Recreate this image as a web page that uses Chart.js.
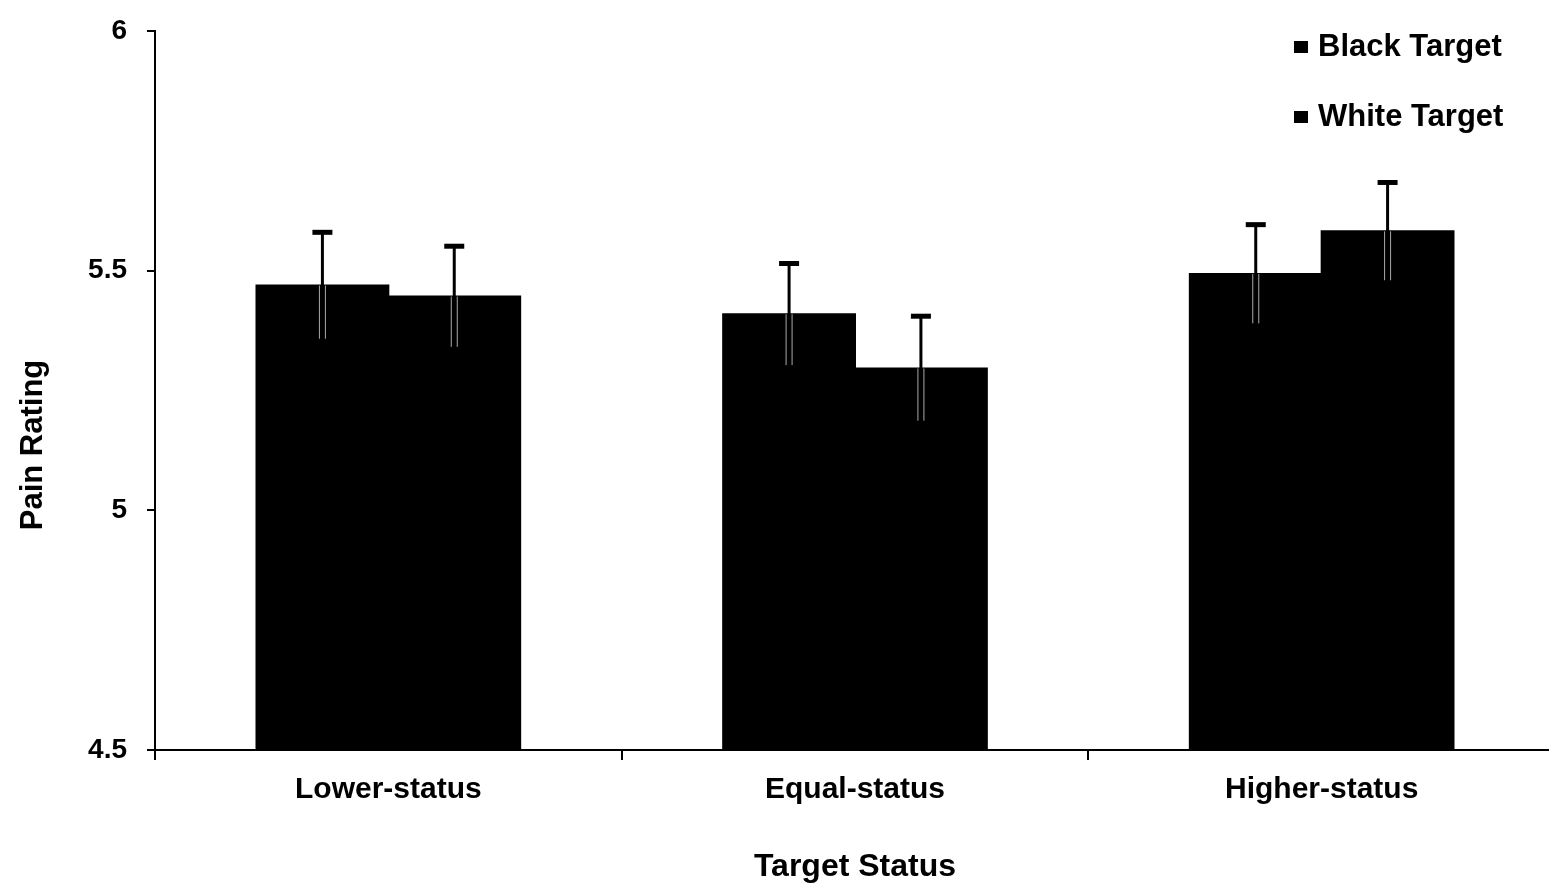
<!DOCTYPE html>
<html>
<head>
<meta charset="utf-8">
<script src="https://cdn.jsdelivr.net/npm/chart.js@4"></script>
<style>
  html, body { margin: 0; padding: 0; background: #fff; overflow: hidden; }
  #wrap { width: 1555px; height: 886px; }
</style>
</head>
<body>
<div id="wrap"><canvas id="chart"></canvas></div>
<script>
const categories = ['Lower-status', 'Equal-status', 'Higher-status'];
const seriesNames = ['Black Target', 'White Target'];
const blackValues = [5.469, 5.409, 5.493];
const whiteValues = [5.446, 5.296, 5.582];
const blackErrors = [0.111, 0.106, 0.103];
const whiteErrors = [0.105, 0.109, 0.102];
const yTicks = [4.5, 5, 5.5, 6];
const yTitle = 'Pain Rating';

const FONT = '"Liberation Sans", Arial, sans-serif';

// error bars: black line above the bar, light line inside it
const errorBars = {
  id: 'errorBars',
  afterDatasetsDraw(chart) {
    const ctx = chart.ctx;
    const y = chart.scales.y;
    const errs = [blackErrors, whiteErrors];
    chart.data.datasets.forEach((ds, di) => {
      const meta = chart.getDatasetMeta(di);
      meta.data.forEach((bar, i) => {
        const v = ds.data[i];
        const top = y.getPixelForValue(v + errs[di][i]);
        const bot = y.getPixelForValue(v - errs[di][i]);
        ctx.save();
        ctx.strokeStyle = '#000';
        ctx.lineWidth = 3;
        ctx.beginPath();
        ctx.moveTo(bar.x, bar.y);
        ctx.lineTo(bar.x, top);
        ctx.stroke();
        ctx.lineWidth = 5;
        ctx.beginPath();
        ctx.moveTo(bar.x - 10, top);
        ctx.lineTo(bar.x + 10, top);
        ctx.stroke();
        ctx.strokeStyle = '#aaa';
        ctx.lineWidth = 1;
        ctx.beginPath();
        ctx.moveTo(bar.x - 3, bar.y);
        ctx.lineTo(bar.x - 3, bot);
        ctx.moveTo(bar.x + 3, bar.y);
        ctx.lineTo(bar.x + 3, bot);
        ctx.stroke();
        ctx.restore();
      });
    });
  }
};

// legend in the top right corner and the rotated y title
const extras = {
  id: 'extras',
  afterDraw(chart) {
    const ctx = chart.ctx;
    ctx.save();
    ctx.fillStyle = '#000';
    ctx.font = 'bold 31px ' + FONT;
    ctx.textBaseline = 'middle';
    chart.data.datasets.forEach((ds, i) => {
      const yy = 47 + i * 70;
      ctx.fillRect(1294, yy - 6, 14, 12);
      ctx.fillText(ds.label, 1318, yy);
    });
    ctx.translate(33, 445);
    ctx.rotate(-Math.PI / 2);
    ctx.textAlign = 'center';
    ctx.font = 'bold 31px ' + FONT;
    ctx.fillText(yTitle, 0, 0);
    ctx.restore();
  }
};

new Chart(document.getElementById('chart'), {
  type: 'bar',
  data: {
    labels: categories,
    datasets: [
      { label: seriesNames[0], data: blackValues, backgroundColor: '#000', borderWidth: 0, inflateAmount: 1 },
      { label: seriesNames[1], data: whiteValues, backgroundColor: '#000', borderWidth: 0, inflateAmount: 1 }
    ]
  },
  options: {
    responsive: true,
    maintainAspectRatio: false,
    animation: false,
    layout: { padding: { top: 31, right: 0, left: 0, bottom: 0 } },
    datasets: { bar: { categoryPercentage: 0.565, barPercentage: 1.0 } },
    plugins: {
      legend: { display: false },
      tooltip: { enabled: false }
    },
    scales: {
      x: {
        afterFit(s) { s.height = 136; },
        grid: { offset: true, drawOnChartArea: false, tickLength: 10, color: '#000', lineWidth: 2 },
        border: { color: '#000', width: 2 },
        ticks: { color: '#000', font: { family: FONT, size: 30, weight: 'bold' }, padding: 12 },
        title: {
          display: true, text: 'Target Status', color: '#000',
          font: { family: FONT, size: 32, weight: 'bold' }, padding: { top: 40, bottom: 0 }
        }
      },
      y: {
        min: 4.5,
        max: 6,
        afterFit(s) { s.width = 155; s.paddingTop = 0; s.paddingBottom = 0; },
        afterBuildTicks(s) { s.ticks = yTicks.map(v => ({ value: v })); },
        grid: { drawOnChartArea: false, tickLength: 8, color: '#000', lineWidth: 2 },
        border: { color: '#000', width: 2 },
        ticks: {
          color: '#000', font: { family: FONT, size: 28, weight: 'bold' }, padding: 20,
          callback: v => String(v)
        }
      }
    }
  },
  plugins: [errorBars, extras]
});
</script>
</body>
</html>
